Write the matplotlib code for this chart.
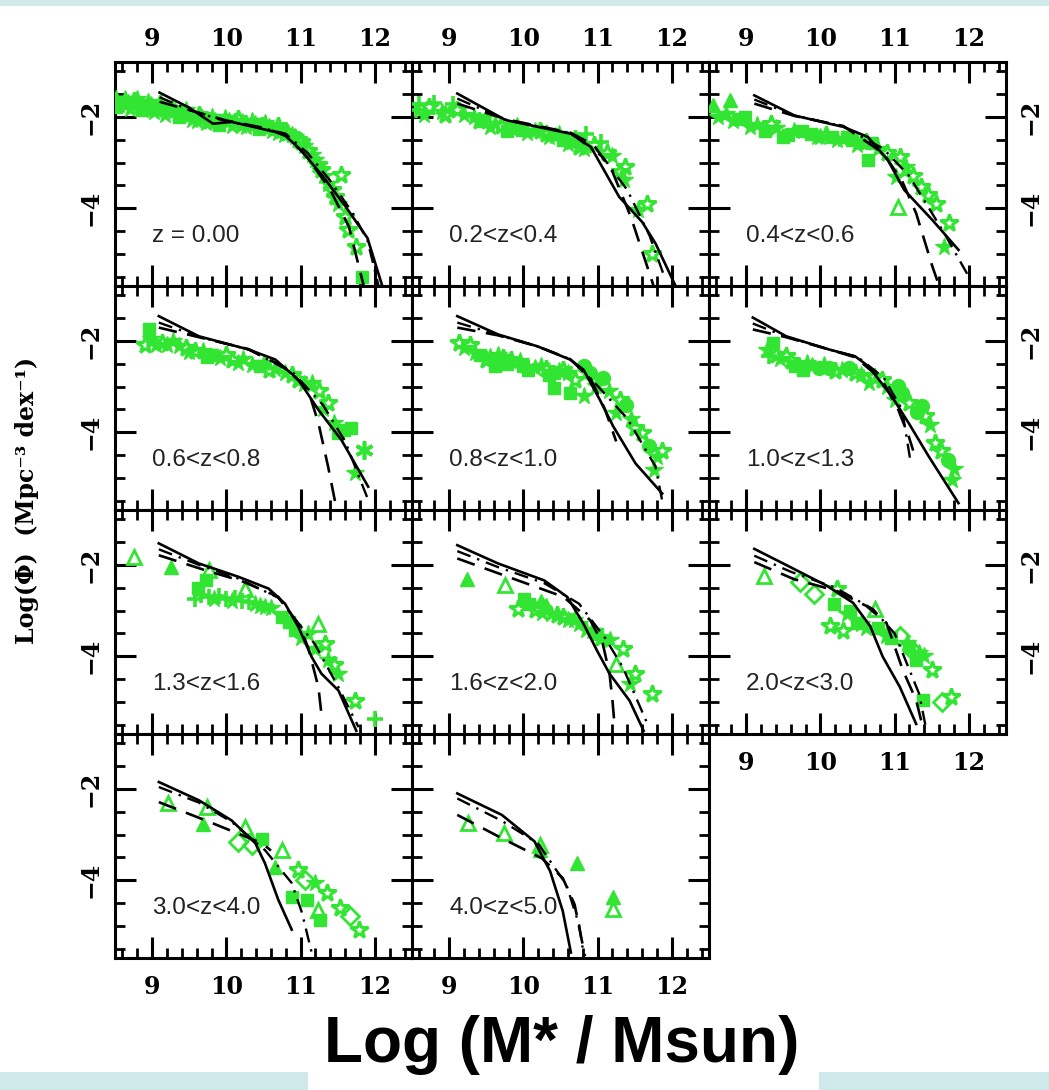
import matplotlib
matplotlib.use("Agg")
import matplotlib.pyplot as plt
from matplotlib.patches import Rectangle
from matplotlib.ticker import MultipleLocator

# ---------------------------------------------------------------- data
PANEL_LABELS = ["z = 0.00", "0.2<z<0.4", "0.4<z<0.6",
                "0.6<z<0.8", "0.8<z<1.0", "1.0<z<1.3",
                "1.3<z<1.6", "1.6<z<2.0", "2.0<z<3.0",
                "3.0<z<4.0", "4.0<z<5.0"]

# model mass functions: (log M*, log Phi) per redshift bin
SOLID = [
    ([9.1, 9.5, 9.82, 10.07, 10.66, 10.8, 11.0, 11.3, 11.6, 11.9, 12.1],
     [-1.47, -1.8, -2.15, -2.11, -2.33, -2.42, -2.72, -3.3, -3.95, -4.65, -5.7]),
    ([9.11, 9.76, 10.64, 10.91, 11.29, 11.6, 11.78, 12.05],
     [-1.49, -2.07, -2.37, -2.66, -3.75, -4.3, -4.77, -5.7]),
    ([9.11, 9.65, 10.31, 10.64, 10.91, 11.13, 11.51, 11.86],
     [-1.53, -1.97, -2.22, -2.44, -2.95, -3.6, -4.26, -4.91]),
    ([9.09, 9.63, 10.3, 10.66, 10.97, 11.24, 11.55, 11.91],
     [-1.46, -1.9, -2.19, -2.41, -2.85, -3.51, -4.17, -5.19]),
    ([9.11, 9.66, 10.19, 10.63, 10.81, 11.03, 11.21, 11.51, 11.87],
     [-1.46, -1.86, -2.12, -2.41, -2.63, -3.29, -3.87, -4.68, -5.34]),
    ([9.09, 9.54, 10.12, 10.47, 10.65, 10.96, 11.19, 11.46, 11.86],
     [-1.49, -1.9, -2.19, -2.34, -2.56, -3.21, -3.8, -4.53, -5.55]),
    ([9.09, 9.63, 10.16, 10.57, 10.79, 10.97, 11.15, 11.28, 11.51, 11.75],
     [-1.53, -1.97, -2.26, -2.52, -2.85, -3.36, -4.02, -4.38, -4.75, -5.63]),
    ([9.11, 9.66, 10.28, 10.59, 10.81, 10.99, 11.16, 11.43, 11.62],
     [-1.57, -1.97, -2.34, -2.7, -3.29, -3.87, -4.38, -4.97, -5.63]),
    ([9.11, 9.56, 10.09, 10.44, 10.67, 10.84, 11.07, 11.29],
     [-1.65, -2.02, -2.46, -2.83, -3.34, -4.01, -4.67, -5.48]),
    ([9.09, 9.63, 10.07, 10.39, 10.52, 10.7, 10.88],
     [-1.85, -2.25, -2.69, -3.19, -3.63, -4.43, -5.08]),
    ([9.11, 9.71, 10.15, 10.36, 10.53, 10.64],
     [-2.1, -2.57, -3.15, -3.8, -4.67, -5.58]),
]

DASHED = [
    ([9.1, 9.5, 10.0, 10.5, 10.8, 11.1, 11.4, 11.65, 11.85],
     [-1.67, -1.85, -2.08, -2.24, -2.4, -2.9, -3.6, -4.4, -5.7]),
    ([9.11, 9.76, 10.64, 10.95, 11.2, 11.45, 11.75],
     [-1.71, -2.05, -2.35, -2.62, -3.2, -4.2, -5.68]),
    ([9.11, 9.65, 10.31, 10.85, 11.1, 11.29, 11.51, 11.6],
     [-1.71, -1.98, -2.2, -2.8, -3.4, -4.11, -5.28, -5.7]),
    ([9.09, 9.63, 10.3, 10.8, 11.1, 11.24, 11.37, 11.48],
     [-1.71, -1.92, -2.18, -2.6, -3.07, -3.8, -4.75, -5.65]),
    ([9.11, 9.66, 10.19, 10.63, 10.9, 11.1, 11.25],
     [-1.71, -1.88, -2.12, -2.4, -2.8, -3.5, -4.2]),
    ([9.09, 9.54, 10.12, 10.47, 10.83, 11.05, 11.19, 11.25],
     [-1.75, -1.92, -2.19, -2.36, -2.85, -3.51, -4.09, -4.4]),
    ([9.09, 9.72, 10.2, 10.7, 10.97, 11.1, 11.24, 11.28],
     [-1.79, -2.12, -2.35, -2.7, -3.29, -3.8, -4.68, -5.26]),
    ([9.11, 9.79, 10.54, 10.9, 11.07, 11.16, 11.2, 11.23],
     [-1.86, -2.26, -2.7, -3.21, -3.73, -4.38, -4.97, -5.55]),
    ([9.11, 9.64, 10.22, 10.62, 10.89, 11.11, 11.29, 11.38],
     [-1.94, -2.31, -2.57, -2.9, -3.27, -4.3, -4.96, -5.55]),
    ([9.09, 9.72, 10.16, 10.48, 10.6],
     [-2.29, -2.69, -2.98, -3.19, -3.35]),
    ([9.11, 9.71, 10.25, 10.53, 10.69, 10.83],
     [-2.57, -3.08, -3.52, -3.95, -4.53, -5.66]),
]

DASHDOT = [
    ([9.1, 9.5, 10.0, 10.5, 10.8, 11.1, 11.4, 11.7, 11.9, 12.05],
     [-1.57, -1.85, -2.1, -2.25, -2.37, -2.8, -3.4, -4.1, -4.7, -5.7]),
    ([9.11, 9.76, 10.64, 11.07, 11.4, 11.7, 11.9],
     [-1.6, -2.06, -2.36, -2.88, -3.6, -4.6, -5.5]),
    ([9.11, 9.65, 10.31, 10.85, 11.2, 11.67, 12.0],
     [-1.62, -1.97, -2.21, -2.7, -3.3, -4.55, -5.5]),
    ([9.09, 9.63, 10.3, 10.9, 11.3, 11.6, 11.91],
     [-1.6, -1.91, -2.19, -2.7, -3.4, -4.2, -5.48]),
    ([9.11, 9.66, 10.19, 10.63, 10.98, 11.4, 11.78, 11.87],
     [-1.6, -1.87, -2.12, -2.4, -2.95, -3.7, -4.75, -5.5]),
    ([9.09, 9.54, 10.12, 10.5, 10.85, 11.1, 11.22],
     [-1.62, -1.91, -2.19, -2.35, -2.8, -3.5, -4.7]),
    ([9.09, 9.63, 10.16, 10.7, 11.19, 11.51, 11.78],
     [-1.66, -2.0, -2.3, -2.72, -3.73, -4.68, -5.55]),
    ([9.11, 9.66, 10.28, 10.75, 11.1, 11.34, 11.69],
     [-1.7, -2.05, -2.4, -2.85, -3.6, -4.24, -5.55]),
    ([9.11, 9.6, 10.2, 10.71, 11.0, 11.33, 11.42],
     [-1.8, -2.15, -2.5, -2.97, -3.5, -4.82, -5.55]),
    ([9.09, 9.63, 10.07, 10.52, 10.88, 11.02, 11.15],
     [-1.96, -2.3, -2.72, -3.34, -4.06, -4.72, -5.59]),
    ([9.11, 9.71, 10.2, 10.58, 10.75, 10.8],
     [-2.21, -2.7, -3.2, -4.1, -4.97, -5.5]),
]

# observed mass functions: (log M*, log Phi, marker kind)
# kinds: s filled square, * filled star, S open star, ^ filled triangle,
#        T open triangle, o filled circle, D open diamond, + plus, x asterisk
OBS = [
    [(8.52, -1.62, '*'), (8.6, -1.68, 's'), (8.68, -1.7, '*'), (8.75, -1.66, 'S'),
     (8.82, -1.76, '*'), (8.9, -1.78, 's'), (8.98, -1.74, '*'), (9.05, -1.82, 'S'),
     (9.13, -1.78, '*'), (9.22, -1.86, 's'), (9.31, -1.88, '*'), (9.4, -1.94, 'S'),
     (9.49, -1.97, '*'), (9.58, -2.0, 's'), (9.67, -2.02, '*'), (9.76, -2.08, 'S'),
     (9.85, -2.09, '*'), (9.94, -2.06, 's'), (10.03, -2.1, '*'), (10.12, -2.12, 'S'),
     (10.21, -2.12, '*'), (10.3, -2.16, 's'), (10.39, -2.15, '*'), (10.48, -2.2, 'S'),
     (10.57, -2.22, '*'), (10.66, -2.27, 's'), (10.75, -2.3, '*'), (10.82, -2.35, 'S'),
     (10.88, -2.4, '*'), (10.97, -2.51, 'S'), (11.05, -2.64, '*'), (11.1, -2.75, 'S'),
     (11.19, -2.95, '*'), (11.28, -3.17, 'S'), (11.37, -3.46, '*'), (11.55, -3.28, 'S'),
     (11.46, -3.75, 'S'), (11.6, -4.19, 'S'), (11.64, -4.48, 'S'), (11.75, -4.84, 'S'),
     (11.82, -5.5, 's'), (8.56, -1.75, '*'), (9.0, -1.86, '*'), (9.6, -2.1, '*'),
     (10.2, -2.2, '*'), (10.7, -2.36, '*'),
     (8.52, -1.78, 's'), (8.64, -1.6, '*'), (8.7, -1.82, '*'), (8.8, -1.62, '*'),
     (8.86, -1.86, 's'), (8.95, -1.68, '*'), (9.02, -1.9, '*'), (9.1, -1.72, 'S'),
     (9.18, -1.96, '*'), (9.27, -1.8, '*'), (9.36, -2.0, 's'), (9.45, -1.86, '*'),
     (9.54, -2.06, '*'), (9.63, -1.95, 'S'), (9.72, -2.14, '*'), (9.8, -2.0, '*'),
     (9.9, -2.18, 's'), (9.98, -2.02, '*'), (10.08, -2.2, '*'), (10.16, -2.05, 'S'),
     (10.26, -2.22, '*'), (10.35, -2.08, '*'), (10.44, -2.26, 's'), (10.52, -2.14, '*'),
     (10.62, -2.32, '*'), (10.7, -2.2, 'S'), (10.78, -2.4, '*'), (10.92, -2.45, '*'),
     (11.0, -2.56, 'S'), (11.15, -2.84, '*'), (11.24, -3.06, 'S'), (11.32, -3.3, '*'),
     (11.42, -3.6, 'S'), (11.5, -3.9, '*')],
    [(8.56, -1.86, '+'), (8.73, -1.78, 'S'), (8.9, -1.9, '*'), (9.11, -1.86, 'S'),
     (9.33, -2.0, '*'), (9.45, -2.1, 's'), (9.55, -2.22, '*'), (9.7, -2.2, 'S'),
     (9.85, -2.26, '*'), (9.98, -2.29, 's'), (10.15, -2.3, '*'), (10.31, -2.37, 'S'),
     (10.42, -2.42, '*'), (10.53, -2.51, 's'), (10.65, -2.55, '*'), (10.75, -2.66, 'S'),
     (10.85, -2.37, '+'), (11.13, -2.8, 'S'), (11.37, -3.1, 'S'), (11.35, -3.39, '*'),
     (11.67, -3.9, 'S'), (11.54, -4.04, '*'), (11.73, -4.99, 'S'),
     (8.6, -1.72, '+'), (8.66, -1.95, '*'), (8.8, -1.7, '+'), (8.95, -1.96, 'S'),
     (9.05, -1.72, '+'), (9.2, -1.95, '*'), (9.4, -2.1, 'S'), (9.5, -2.0, '*'),
     (9.62, -2.16, '*'), (9.78, -2.3, 's'), (9.92, -2.2, '*'), (10.05, -2.36, '*'),
     (10.22, -2.3, 'S'), (10.35, -2.45, '*'), (10.48, -2.38, '*'), (10.6, -2.6, '*'),
     (10.7, -2.48, 'S'), (10.82, -2.7, '*'), (10.95, -2.62, 'S'), (11.05, -2.55, '+'),
     (11.2, -2.85, '*'), (11.3, -3.2, 'S')],
    [(8.78, -1.64, '^'), (8.73, -1.93, '*'), (8.9, -2.05, 's'), (9.05, -2.22, '*'),
     (9.33, -2.15, 'S'), (9.49, -2.44, 's'), (9.65, -2.3, '*'), (9.87, -2.37, 's'),
     (10.0, -2.45, '*'), (10.15, -2.44, 's'), (10.3, -2.48, '*'), (10.42, -2.51, 's'),
     (10.55, -2.55, '*'), (10.69, -2.58, 's'), (10.64, -2.95, 's'), (11.07, -2.88, 'S'),
     (11.02, -3.31, '*'), (11.35, -3.53, 'S'), (11.05, -3.97, 'T'), (11.56, -3.9, 'S'),
     (11.73, -4.33, 'S'), (11.67, -4.84, '*'),
     (8.55, -1.75, '^'), (8.62, -2.0, '*'), (8.82, -2.1, '*'), (8.98, -2.0, 's'),
     (9.15, -2.18, '*'), (9.25, -2.3, 's'), (9.4, -2.25, '*'), (9.56, -2.4, 's'),
     (9.75, -2.32, 's'), (9.95, -2.45, '*'), (10.08, -2.4, 'S'), (10.22, -2.5, '*'),
     (10.36, -2.45, 's'), (10.5, -2.62, '*'), (10.62, -2.55, 'S'), (10.78, -2.7, '*'),
     (10.9, -2.8, 'S'), (11.15, -3.1, '*'), (11.25, -3.3, 'S'), (11.45, -3.7, 'S')],
    [(8.96, -1.75, 's'), (8.91, -2.08, 'S'), (9.13, -2.04, 'S'), (9.36, -2.12, '*'),
     (9.58, -2.23, 'S'), (9.81, -2.3, 's'), (10.07, -2.41, 'S'), (10.34, -2.52, '*'),
     (10.57, -2.63, 'S'), (10.79, -2.7, '*'), (10.97, -2.85, 'S'), (11.15, -2.92, '*'),
     (11.37, -3.36, 'S'), (11.51, -4.02, 's'), (11.68, -3.91, 's'), (11.86, -4.38, 'x'),
     (11.73, -4.9, '*'),
     (8.98, -1.95, '*'), (9.05, -2.1, '*'), (9.2, -2.1, '*'), (9.28, -2.0, '*'),
     (9.45, -2.15, 'S'), (9.5, -2.25, '*'), (9.68, -2.22, '*'), (9.74, -2.35, 's'),
     (9.92, -2.38, '*'), (10.0, -2.3, 'S'), (10.15, -2.48, '*'), (10.22, -2.4, '*'),
     (10.45, -2.55, 's'), (10.5, -2.48, '*'), (10.65, -2.62, '*'), (10.88, -2.75, 'S'),
     (11.05, -2.95, '*'), (11.25, -3.1, 'S'), (11.3, -3.5, '*'), (11.45, -3.8, '*'),
     (11.58, -3.95, 's')],
    [(9.13, -2.04, 'S'), (9.35, -2.26, '*'), (9.49, -2.41, 'S'), (9.66, -2.3, '*'),
     (9.62, -2.56, 's'), (9.84, -2.41, 'S'), (10.06, -2.63, 's'), (10.24, -2.56, '*'),
     (10.41, -2.7, 's'), (10.41, -3.03, 's'), (10.63, -3.14, 's'), (10.81, -3.21, '*'),
     (10.54, -2.63, 'S'), (10.81, -2.56, 'o'), (11.07, -2.81, 'o'), (10.98, -2.99, '*'),
     (11.38, -3.4, 'o'), (11.25, -3.58, '*'), (11.6, -4.02, 'S'), (11.69, -4.31, 'o'),
     (11.87, -4.42, 'S'), (11.76, -4.82, '*'),
     (9.2, -2.15, '*'), (9.28, -2.08, 'S'), (9.42, -2.3, 's'), (9.55, -2.35, '*'),
     (9.72, -2.38, 'S'), (9.78, -2.5, 's'), (9.95, -2.45, '*'), (10.0, -2.55, 's'),
     (10.15, -2.6, '*'), (10.3, -2.62, 'S'), (10.35, -2.75, 's'), (10.48, -2.65, '*'),
     (10.6, -2.7, '*'), (10.7, -2.85, 'S'), (10.9, -2.7, 'o'), (11.15, -3.1, '*'),
     (11.3, -3.3, 'S'), (11.45, -3.7, '*'), (11.5, -3.9, 'S'), (11.8, -4.55, '*')],
    [(9.36, -2.04, 's'), (9.31, -2.34, '+'), (9.54, -2.34, 'S'), (9.76, -2.63, 's'),
     (9.89, -2.56, '*'), (10.12, -2.59, 'o'), (10.29, -2.63, '*'), (10.47, -2.7, 'S'),
     (10.65, -2.92, '*'), (10.83, -2.85, 'S'), (11.05, -2.99, 'o'), (11.01, -3.29, '*'),
     (11.37, -3.43, 'o'), (11.41, -3.65, 'S'), (11.54, -4.24, 'S'), (11.72, -4.6, 'o'),
     (11.77, -5.04, '*'),
     (9.28, -2.2, '*'), (9.4, -2.3, 'S'), (9.46, -2.4, '*'), (9.6, -2.45, 'S'),
     (9.66, -2.55, 's'), (9.82, -2.48, '*'), (9.98, -2.6, 'o'), (10.05, -2.52, '*'),
     (10.2, -2.65, 'S'), (10.38, -2.6, 'o'), (10.55, -2.75, '*'), (10.72, -2.8, 'S'),
     (10.9, -3.0, '*'), (11.1, -3.15, 'o'), (11.2, -3.35, 'S'), (11.3, -3.55, 'o'),
     (11.48, -3.85, '*'), (11.62, -4.4, 'S'), (11.8, -4.8, '*')],
    [(8.75, -1.82, 'T'), (9.25, -2.04, '^'), (9.72, -2.34, 's'), (9.76, -2.12, 'T'),
     (9.58, -2.74, '+'), (9.76, -2.7, '+'), (9.99, -2.74, '+'), (10.21, -2.78, '+'),
     (10.39, -2.85, '*'), (10.52, -2.92, '*'), (10.25, -2.52, 'T'), (10.75, -3.14, 's'),
     (10.93, -3.43, 's'), (11.24, -3.29, 'T'), (11.33, -3.73, 'S'), (11.1, -3.51, '*'),
     (11.37, -4.09, '*'), (11.51, -4.38, '*'), (11.73, -4.97, 'S'), (12.0, -5.37, '+'),
     (9.62, -2.5, 's'), (9.66, -2.65, '+'), (9.84, -2.75, '*'), (9.9, -2.68, '+'),
     (10.08, -2.8, '*'), (10.12, -2.72, '+'), (10.3, -2.82, '+'), (10.45, -2.9, '*'),
     (10.6, -2.95, '*'), (10.85, -3.25, 's'), (11.0, -3.6, '*'), (11.2, -3.85, '*'),
     (11.45, -4.2, 'S')],
    [(9.24, -2.3, '^'), (9.75, -2.45, 'T'), (10.24, -2.78, '^'), (10.01, -2.74, 's'),
     (9.93, -2.96, 'S'), (10.15, -2.99, 'S'), (10.37, -3.07, '*'), (10.54, -3.14, 'S'),
     (10.68, -3.21, '*'), (10.85, -3.43, '*'), (10.99, -3.51, 's'), (11.16, -3.65, '*'),
     (11.34, -3.84, 'S'), (11.25, -4.17, 'T'), (11.51, -4.38, 'S'), (11.43, -4.6, '*'),
     (11.73, -4.82, 'S'),
     (10.08, -2.85, 's'), (10.3, -2.88, '^'), (10.25, -3.05, '*'), (10.45, -3.1, 'S'),
     (10.6, -3.2, '*'), (10.75, -3.3, '*'), (10.92, -3.45, '*'), (11.05, -3.6, 'S')],
    [(9.24, -2.24, 'T'), (9.73, -2.38, 'D'), (9.91, -2.64, 'D'), (10.22, -2.53, 'S'),
     (10.18, -2.86, 's'), (10.36, -3.08, '*'), (10.49, -3.27, 's'), (10.13, -3.34, 'S'),
     (10.31, -3.45, 'S'), (10.62, -3.38, '*'), (10.78, -3.38, 's'), (10.73, -2.97, 'T'),
     (10.89, -3.56, '*'), (11.07, -3.56, 'D'), (11.16, -3.71, '*'), (11.24, -3.86, 'D'),
     (11.33, -3.93, '*'), (11.29, -4.08, 's'), (11.51, -4.3, 'S'), (11.38, -4.96, 's'),
     (11.64, -5.0, 'D'), (11.76, -4.89, 'S'),
     (10.55, -3.3, '*'), (10.95, -3.6, 's'), (11.2, -3.8, 's'), (11.4, -4.0, '*'),
     (10.4, -3.0, 's')],
    [(9.22, -2.32, 'T'), (9.74, -2.4, 'T'), (9.69, -2.76, '^'), (10.25, -2.83, 'T'),
     (10.16, -3.16, 'D'), (10.48, -3.09, 's'), (10.34, -3.23, 'D'), (10.75, -3.34, 'T'),
     (10.66, -3.7, '^'), (10.97, -3.78, 'S'), (11.06, -4.0, 'D'), (11.19, -4.07, '*'),
     (11.35, -4.28, 'S'), (10.88, -4.36, 's'), (11.08, -4.43, 's'), (11.26, -4.86, 's'),
     (11.24, -4.65, 'T'), (11.53, -4.61, 'S'), (11.66, -4.79, 'D'), (11.78, -5.08, 'S')],
    [(9.25, -2.75, 'T'), (9.74, -2.97, 'T'), (10.23, -3.23, 'T'), (10.23, -3.34, '^'),
     (10.72, -3.63, '^'), (11.21, -4.36, '^'), (11.21, -4.62, 'T')],
]

X_TICKS = [9, 10, 11, 12]
Y_TICKS = [-2, -4]

# ---------------------------------------------------------------- style
GREEN = "#33e533"
MARKERS = {
    's': dict(marker='s', ms=8, mfc=GREEN, mec=GREEN),
    '*': dict(marker='*', ms=13, mfc=GREEN, mec=GREEN),
    'S': dict(marker='*', ms=13, mfc='none', mec=GREEN, mew=2.2),
    '^': dict(marker='^', ms=10, mfc=GREEN, mec=GREEN),
    'T': dict(marker='^', ms=10, mfc='none', mec=GREEN, mew=2.0),
    'o': dict(marker='o', ms=10, mfc=GREEN, mec=GREEN),
    'D': dict(marker='D', ms=9, mfc='none', mec=GREEN, mew=2.0),
    '+': dict(marker='+', ms=12, mec=GREEN, mew=2.6),
    'x': dict(marker=(6, 2, 0), ms=13, mec=GREEN, mew=2.6),
}

W, H = 1049, 1090
fig = plt.figure(figsize=(W / 100, H / 100), dpi=100)
fig.patch.set_facecolor("white")

# slide background bands
BAND = "#cfe9eb"
fig.patches.append(Rectangle((0, 1 - 6 / H), 1, 6 / H, transform=fig.transFigure,
                             facecolor=BAND, edgecolor='none', zorder=-5))
fig.patches.append(Rectangle((0, 0), 308 / W, 18 / H, transform=fig.transFigure,
                             facecolor=BAND, edgecolor='none', zorder=-5))
fig.patches.append(Rectangle((819 / W, 0), 1 - 819 / W, 18 / H, transform=fig.transFigure,
                             facecolor=BAND, edgecolor='none', zorder=-5))

PX0, PY0, PW, PH = 115, 62, 297, 224
TICK_FONT = dict(family="DejaVu Serif", size=17, weight="bold")

for i, label in enumerate(PANEL_LABELS):
    r, c = divmod(i, 3)
    ax = fig.add_axes([(PX0 + PW * c) / W, 1 - (PY0 + PH * (r + 1)) / H, PW / W, PH / H])
    ax.set_xlim(8.5, 12.5)
    ax.set_ylim(-5.7, -0.8)

    sx, sy = SOLID[i]
    ax.plot(sx, sy, color='black', lw=1.9, solid_joinstyle='round', zorder=4)
    dx, dy = DASHED[i]
    ax.plot(dx, dy, color='black', lw=1.9, dashes=(7, 4), zorder=4)
    ddx, ddy = DASHDOT[i]
    ax.plot(ddx, ddy, color='black', lw=1.7, dashes=(6, 3, 1, 3), zorder=4)

    for x, y, kind in OBS[i]:
        ax.plot([x], [y], ls='none', zorder=3, **MARKERS[kind])

    ax.text(9.0, -4.6, label, fontsize=17.5, color='#222222',
            family="Liberation Sans", va='center', ha='left')

    ax.set_xticks(X_TICKS)
    ax.set_yticks(Y_TICKS)
    ax.xaxis.set_minor_locator(MultipleLocator(0.2))
    ax.yaxis.set_minor_locator(MultipleLocator(0.5))
    ax.tick_params(which='both', direction='in', top=True, right=True,
                   bottom=True, left=True, color='black')
    ax.tick_params(which='major', length=15, width=2.2)
    ax.tick_params(which='minor', length=7, width=2.0)
    ax.tick_params(axis='y', which='major', pad=9)

    show_top = r == 0
    show_bottom = (r == 3) or (r == 2 and c == 2)
    show_left = c == 0
    show_right = c == 2
    ax.tick_params(axis='x', which='major', pad=8 if show_top else 12)
    ax.tick_params(labeltop=show_top, labelbottom=show_bottom,
                   labelleft=show_left, labelright=show_right)
    for lab in ax.get_xticklabels():
        lab.set_fontproperties(TICK_FONT)
    for lab in ax.get_yticklabels():
        lab.set_fontproperties(TICK_FONT)
        lab.set_rotation(90)
        lab.set_va('center')
    for sp in ax.spines.values():
        sp.set_linewidth(2.2)

fig.text(27 / W, 1 - 500 / H, "Log(Φ)  (Mpc⁻³ dex⁻¹)", rotation=90,
         ha='center', va='center', family="DejaVu Serif", weight="bold", size=17)
fig.text(562 / W, 1 - 1045 / H, "Log (M* / Msun)", ha='center', va='center',
         family="Liberation Sans", weight="bold", size=46)

fig.savefig("out.png", dpi=100, facecolor=fig.get_facecolor())
